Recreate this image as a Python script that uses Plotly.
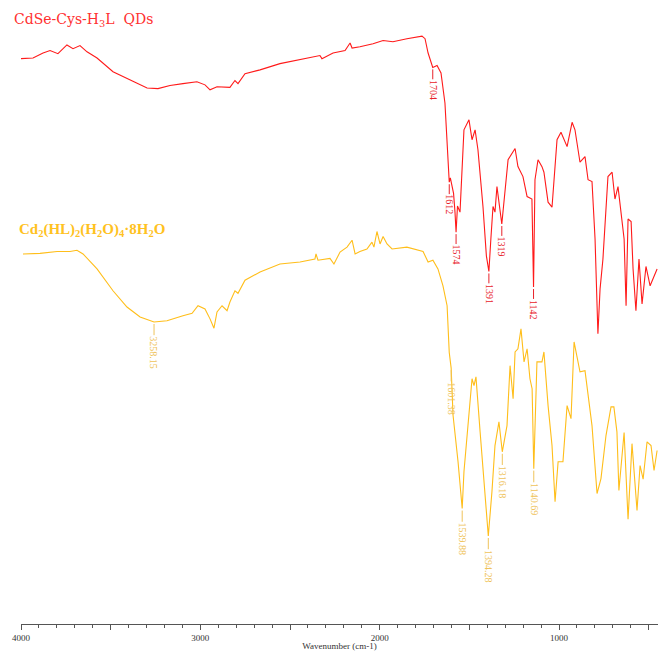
import plotly.graph_objects as go

# FT-IR spectra (wavenumber in cm-1, transmittance in arbitrary units, traces offset)
qd_wavenumber = [4000, 3933, 3877, 3838, 3794, 3744, 3710, 3671, 3632, 3576, 3487, 3375,
                 3297, 3236, 3169, 3097, 3019, 2974, 2946, 2907, 2835, 2807, 2790, 2751,
                 2667, 2556, 2444, 2333, 2322, 2260, 2193, 2165, 2154, 2110, 2037, 1981,
                 1926, 1848, 1764, 1747, 1730, 1704, 1680, 1658, 1636, 1622, 1615, 1612,
                 1606, 1596, 1588, 1580, 1574, 1566, 1552, 1530, 1502, 1485, 1468, 1452,
                 1424, 1405, 1391, 1380, 1368, 1357, 1346, 1319, 1284, 1245, 1229, 1201,
                 1178, 1151, 1142, 1134, 1117, 1095, 1084, 1061, 1039, 1011, 989, 955,
                 927, 911, 883, 855, 838, 816, 799, 783, 771, 755, 727, 704, 688, 671,
                 649, 637, 626, 615, 598, 587, 571, 554, 537, 515, 492, 476, 453]
qd_transmittance = [90.6, 90.7, 91.5, 91.9, 91.4, 92.8, 92.2, 92.7, 91.7, 90.7, 88.5, 86.9,
                    85.9, 85.8, 86.3, 86.6, 86.9, 86.4, 85.6, 86.1, 86.0, 87.1, 86.6, 88.2,
                    88.8, 89.8, 90.4, 91.1, 90.6, 91.5, 91.9, 93.1, 92.3, 92.5, 93.0, 93.5,
                    93.3, 93.8, 94.2, 93.8, 91.5, 89.2, 89.5, 88.3, 83.5, 75.5, 72.5, 70.8,
                    71.5, 70.0, 69.0, 66.0, 62.8, 67.0, 66.0, 79.2, 80.8, 77.6, 79.2, 76.0,
                    66.9, 59.0, 56.5, 61.7, 66.9, 66.0, 70.1, 64.1, 74.4, 76.2, 73.3, 71.7,
                    68.5, 68.1, 54.0, 71.2, 74.4, 73.3, 72.4, 67.6, 66.8, 77.6, 78.8, 76.5,
                    80.4, 79.2, 74.0, 74.9, 71.2, 70.9, 61.7, 46.5, 53.7, 58.5, 71.7, 72.4,
                    68.1, 70.1, 64.9, 61.7, 51.0, 64.9, 64.5, 56.9, 50.2, 58.5, 51.3, 57.3,
                    54.2, 55.3, 56.9]

cd_wavenumber = [3989, 3894, 3799, 3727, 3688, 3654, 3576, 3487, 3409, 3336, 3258.15, 3186,
                 3097, 3046, 3013, 2974, 2946, 2924, 2907, 2879, 2851, 2835, 2807, 2790,
                 2751, 2667, 2556, 2444, 2361, 2355, 2344, 2277, 2255, 2221, 2182, 2154,
                 2137, 2110, 2071, 2043, 2032, 2015, 1998, 1981, 1959, 1931, 1848, 1758,
                 1730, 1703, 1675, 1647, 1624, 1612, 1601.38, 1591, 1563, 1539.88, 1530,
                 1507, 1485, 1474, 1463, 1440, 1413, 1394.28, 1374, 1357, 1335, 1316.18,
                 1290, 1273, 1256, 1245, 1229, 1212, 1195, 1178, 1162, 1150, 1140.69, 1128,
                 1123, 1095, 1084, 1061, 1039, 1022, 1005, 978, 955, 933, 916, 883, 855,
                 816, 788, 766, 738, 710, 694, 677, 666, 637, 615, 593, 565, 548, 531, 509,
                 487, 470, 453]
cd_transmittance = [59.3, 59.4, 59.7, 59.7, 59.9, 59.3, 56.9, 53.4, 50.8, 49.2, 48.4, 48.6,
                    49.4, 49.8, 51.0, 50.5, 48.9, 47.4, 50.0, 51.0, 50.2, 51.6, 53.4, 53.0,
                    55.1, 56.4, 57.7, 58.0, 58.5, 59.3, 58.3, 58.6, 57.7, 59.6, 60.4, 61.5,
                    59.3, 59.7, 60.1, 61.2, 60.4, 62.9, 60.9, 62.1, 60.9, 60.1, 60.4, 59.7,
                    58.0, 58.3, 56.9, 54.2, 51.0, 43.5, 41.0, 33.5, 26.0, 18.5, 24.4,
                    32.4, 39.3, 38.2, 39.6, 30.8, 20.1, 14.1, 21.2, 28.6, 32.4, 27.6,
                    31.8, 41.4, 36.1, 43.6, 44.1, 47.3, 42.0, 44.1, 39.3, 37.7, 24.9, 38.0,
                    42.0, 42.0, 43.6, 35.0, 28.6, 19.6, 26.0, 26.0, 35.0, 32.9, 45.2, 40.4, 40.6,
                    31.8, 20.9, 23.3, 30.2, 34.8, 34.8, 30.8, 21.4, 30.7, 16.8, 28.9, 18.2, 25.4, 23.2, 29.2,
                    28.6, 24.6, 27.8]

# Peak assignments
qd_peaks = ["1704", "1612", "1574", "1391", "1319", "1142"]
cd_peaks = ["3258.15", "1601.38", "1539.88", "1394.28", "1316.18", "1140.69"]

qd_name = "CdSe-Cys-H<sub>3</sub>L  QDs"
cd_name = "Cd<sub>2</sub>(HL)<sub>2</sub>(H<sub>2</sub>O)<sub>4</sub>·8H<sub>2</sub>O"

tick_values = [4000, 3500, 3000, 2500, 2000, 1500, 1000, 500]
tick_labels = ["4000", "", "3000", "", "2000", "", "1000", ""]

RED = "#FF1A1A"
GOLD = "#FFBE1A"
RED_TEXT = "#E8222A"
GOLD_TEXT = "#EFC35A"

fig = go.Figure()
fig.add_trace(go.Scatter(x=qd_wavenumber, y=qd_transmittance, mode="lines",
                         line=dict(color=RED, width=1.1), hoverinfo="skip"))
fig.add_trace(go.Scatter(x=cd_wavenumber, y=cd_transmittance, mode="lines",
                         line=dict(color=GOLD, width=1.1), hoverinfo="skip"))


def peak_labels(labels, xs, ys, color):
    out = []
    for lab in labels:
        w = float(lab)
        # nearest sampled point of the spectrum
        i = min(range(len(xs)), key=lambda k: abs(xs[k] - w))
        out.append(dict(
            x=w, y=ys[i], xref="x", yref="y", text=lab, textangle=90,
            showarrow=True, arrowhead=0, arrowwidth=1, arrowcolor=color,
            ax=0, ay=3 + 9 + len(lab) * 2.6, standoff=2,
            font=dict(family="Liberation Serif", size=10, color=color),
            borderpad=0,
        ))
    return out


annotations = peak_labels(qd_peaks, qd_wavenumber, qd_transmittance, RED_TEXT)
annotations += peak_labels(cd_peaks, cd_wavenumber, cd_transmittance, GOLD_TEXT)
annotations += [
    dict(x=12, y=20, xref="paper", yref="paper", text=qd_name, showarrow=False,
         xanchor="left", yanchor="middle",
         font=dict(family="DejaVu Serif", size=14, color="#FF3030")),
]
annotations[-1].update(xref="x domain", yref="y domain", x=-0.014, y=0.968)
annotations.append(
    dict(x=-0.006, y=0.632, xref="x domain", yref="y domain", text="<b>" + cd_name + "</b>",
         showarrow=False, xanchor="left", yanchor="middle",
         font=dict(family="Liberation Serif", size=15, color="#FFC21F")))

fig.update_layout(
    width=659, height=651,
    margin=dict(l=21, r=1, t=0, b=25),
    paper_bgcolor="white", plot_bgcolor="white",
    showlegend=False,
    annotations=annotations,
    xaxis=dict(
        range=[4000, 448], showgrid=False, zeroline=False,
        showline=True, linecolor="#555555", linewidth=1,
        ticks="outside", ticklen=5, tickcolor="#555555", tickwidth=1,
        tickvals=tick_values, ticktext=tick_labels,
        minor=dict(dtick=100, ticks="outside", ticklen=3, tickcolor="#555555"),
        tickfont=dict(family="Liberation Serif", size=9, color="#333333"),
        title=dict(text="Wavenumber (cm-1)", standoff=2,
                   font=dict(family="Liberation Serif", size=9, color="#333333")),
    ),
    yaxis=dict(range=[0, 100], visible=False),
)

fig.write_html("out.html")
